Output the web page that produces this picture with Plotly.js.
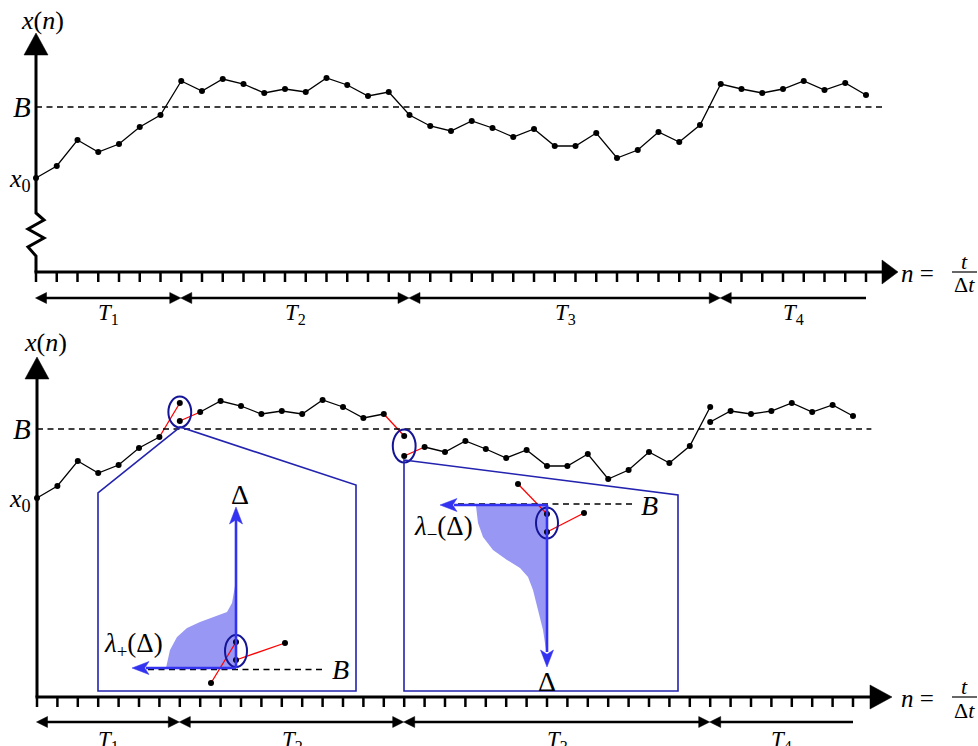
<!DOCTYPE html>
<html><head><meta charset="utf-8">
<script src="https://cdn.plot.ly/plotly-3.0.1.min.js"></script>
<style>html,body{margin:0;padding:0;background:#fff}#chart{width:978px;height:746px}</style>
</head><body><div id="chart"></div>
<script>
// ---------------- data ----------------
const nIdx = [0,1,2,3,4,5,6,7,8,9,10,11,12,13,14,15,16,17,18,19,20,21,22,23,24,25,26,27,28,29,30,31,32,33,34,35,36,37,38,39,40];
// top panel: free walk x(n)
const topX = [9.4,10.6,13.2,12.0,12.8,14.5,15.7,19.1,18.1,19.3,18.8,17.9,18.3,18.0,19.4,18.7,17.6,18.0,15.7,14.6,14.1,15.1,14.4,13.5,14.3,12.6,12.6,13.9,11.4,12.2,14.0,13.0,14.7,18.8,18.3,17.9,18.3,19.1,18.2,18.9,17.7];
// bottom panel: walk with the value reached at each step
const botX = [9.6,10.8,13.3,12.1,12.9,14.6,15.7,19.1,18.2,19.3,18.8,18.0,18.3,18.0,19.4,18.7,17.6,18.0,15.8,14.7,14.2,15.3,14.5,13.6,14.4,12.8,12.8,14.0,11.5,12.4,14.2,13.1,14.8,18.7,18.3,18.0,18.3,19.1,18.2,18.9,17.8];
// steps where the walk is reset after crossing B, and the reset values
const resetN = [7, 18, 33];
const resetX = [17.3, 13.8, 17.2];
// crossings highlighted in red with an ellipse
const redN = [7, 18];
const barrierB = 16.5;
// period boundaries (in steps) and labels
const periodEdges = [0, 7, 18, 33, 40];
const periodLabels = ['<i>T</i><sub>1</sub>','<i>T</i><sub>2</sub>','<i>T</i><sub>3</sub>','<i>T</i><sub>4</sub>'];
// inset 1 (upward crossing): overshoot distribution lambda_+(Delta)
const in1Delta  = [0.0, 1.8, 3.1, 4.0, 4.6, 5.1, 5.6, 6.5, 7.8, 8.8];
const in1Lambda = [7.0, 6.6, 5.9, 4.9, 3.6, 2.3, 0.9, 0.4, 0.2, 0.0];
const in1PtU = [-2.5, 0.0, 0.0, 4.9];   // before, arrival, reset, after
const in1PtW = [-1.5, 2.6, 0.8, 2.5];
// inset 2 (downward crossing): lambda_-(Delta), Delta measured downwards
const in2Delta  = [0.1, 1.8, 3.2, 4.5, 5.5, 6.3, 7.2, 8.5, 10.5, 12.5, 14.5];
const in2Lambda = [7.1, 6.9, 6.4, 5.4, 4.0, 2.7, 1.9, 1.4, 0.9, 0.4, 0.1];
const in2PtU = [-2.9, 0.0, 0.0, 3.7];
const in2PtD = [-2.1, 0.9, 2.7, 0.8];

// ---------------- layout helpers ----------------
const W = 978, H = 746;
const FONT = 'Liberation Serif, DejaVu Serif, serif';
const BLUE = 'rgb(50,50,240)', NAVY = 'rgb(20,20,150)', BOX = 'rgb(35,35,175)', SHADE = 'rgb(152,152,244)';
const xr = (o,s) => [-o/s, (W-o)/s];
const yrUp = (o,s) => [(o-H)/s, o/s];
const yrDown = (o,s) => [(H-o)/s, -o/s];
const M = {
  top: {xo:36, xs:20.75, yo:272, ys:10},
  bot: {xo:37, xs:20.4, yo:594, ys:10}
};
const PX = (p,n) => p.xo + p.xs*n;
const fx = x => x/W, fy = y => 1 - y/H;

const shapes = [], ann = [];
function pline(x0,y0,x1,y1,color,width,dash){
  shapes.push({type:'line',xref:'paper',yref:'paper',x0:fx(x0),y0:fy(y0),x1:fx(x1),y1:fy(y1),
    line:{color:color,width:width,dash:dash||'solid'}});
}
function ppath(pts,close,color,width,fill){
  let d = pts.map((p,i)=>(i?'L':'M')+fx(p[0]).toFixed(5)+','+fy(p[1]).toFixed(5)).join(' ');
  if(close) d += ' Z';
  shapes.push({type:'path',xref:'paper',yref:'paper',path:d,
    line:{color:color,width:width},fillcolor:fill||'rgba(0,0,0,0)'});
}
function head(tx,ty,dx,dy,len,half,color,notch){
  const bx = tx - dx*len, by = ty - dy*len;
  const nx = -dy, ny = dx;
  const pts = [[tx,ty],[bx+nx*half,by+ny*half]];
  if(notch) pts.push([tx-dx*len*(1-notch), ty-dy*len*(1-notch)]);
  pts.push([bx-nx*half,by-ny*half]);
  ppath(pts,true,color,0.5,color);
}
function text(x,y,t,size,opts){
  ann.push(Object.assign({xref:'paper',yref:'paper',x:fx(x),y:fy(y),text:t,showarrow:false,
    xanchor:'center',yanchor:'middle',font:{family:FONT,size:size,color:'black'}},opts||{}));
}

// ---------------- axes drawings for each panel ----------------
function panel(p, xref, yref, axisY, yTop, arrowTipX, arrowBaseX, zigzag, tArrowY, tLabelY){
  const x0 = PX(p,0);
  if(zigzag){
    ppath([[x0,yTop+20],[x0,213],[x0+8,220],[x0-8,229],[x0+8,238],[x0-8,247],[x0,256],[x0,axisY]],false,'black',3);
  } else {
    pline(x0,axisY,x0,yTop+20,'black',3);
  }
  head(x0,yTop,0,-1,22,12,'black');
  pline(x0-1.5,axisY,arrowBaseX+2,axisY,'black',3);
  head(arrowTipX,axisY,1,0,arrowTipX-arrowBaseX,12,'black');
  nIdx.forEach(n=>{
    shapes.push({type:'line',xref:xref,yref:'paper',x0:n,x1:n,y0:fy(axisY),y1:fy(axisY+10),line:{color:'black',width:2.5}});
  });
  shapes.push({type:'line',xref:xref,yref:yref,x0:0,x1:40.9,y0:barrierB,y1:barrierB,line:{color:'black',width:1.5,dash:'6px,4.5px'}});
  for(let i=0;i<periodEdges.length-1;i++){
    const a = PX(p,periodEdges[i]), b = PX(p,periodEdges[i+1]);
    const last = i===periodEdges.length-2;
    pline(a+6,tArrowY,last?b:b-6,tArrowY,'black',2.5);
    head(a-0.5,tArrowY,-1,0,11,5.5,'black');
    if(!last) head(b-0.5,tArrowY,1,0,11,5.5,'black');
    text((a+b)/2,tLabelY,periodLabels[i],23);
  }
  text(899,axisY+1,'<i>n</i> =',25,{xanchor:'left'});
  pline(952,axisY,977,axisY,'black',1.2);
  text(964.5,axisY-11,'<i>t</i>',22);
  text(964.5,axisY+13,'Δ<i>t</i>',22);
}
panel(M.top,'x','y',272,33,898,882,true,298,314);
panel(M.bot,'x2','y2',697,357,892,870,false,722,741);

// axis labels
text(42,20,'<i>x</i>(<i>n</i>)',26);
text(22,107,'<i>B</i>',29);
text(20,180,'<i>x</i><sub>0</sub>',26);
text(45,342,'<i>x</i>(<i>n</i>)',26);
text(22,429,'<i>B</i>',29);
text(20,500,'<i>x</i><sub>0</sub>',26);

// ---------------- traces ----------------
const traces = [];
traces.push({x:nIdx,y:topX,xaxis:'x',yaxis:'y',mode:'lines+markers',cliponaxis:false,
  line:{color:'black',width:1.3},marker:{color:'black',size:6}});

// bottom walk: split into black and red segments
const bkX=[],bkY=[],rdX=[],rdY=[],mkX=[],mkY=[];
let lastEnd = null;
for(let i=0;i<nIdx.length;i++){
  const n = nIdx[i];
  mkX.push(n); mkY.push(botX[i]);
  const ri = resetN.indexOf(n);
  if(ri>=0){ mkX.push(n); mkY.push(resetX[ri]); }
  if(i===0) continue;
  const pn = nIdx[i-1];
  const pri = resetN.indexOf(pn);
  const sy = pri>=0 ? resetX[pri] : botX[i-1];
  const isRed = redN.includes(n) || redN.includes(pn);
  if(isRed){
    rdX.push(pn,n,null); rdY.push(sy,botX[i],null);
  } else {
    if(!(lastEnd && lastEnd[0]===pn && lastEnd[1]===sy)){
      if(bkX.length){bkX.push(null);bkY.push(null);}
      bkX.push(pn); bkY.push(sy);
    }
    bkX.push(n); bkY.push(botX[i]);
    lastEnd = [n, botX[i]];
  }
}
traces.push({x:bkX,y:bkY,xaxis:'x2',yaxis:'y2',mode:'lines',cliponaxis:false,connectgaps:false,line:{color:'black',width:1.3}});
traces.push({x:rdX,y:rdY,xaxis:'x2',yaxis:'y2',mode:'lines',cliponaxis:false,connectgaps:false,line:{color:'red',width:1.3}});
traces.push({x:mkX,y:mkY,xaxis:'x2',yaxis:'y2',mode:'markers',cliponaxis:false,marker:{color:'black',size:6}});

// ellipses around highlighted crossings
redN.forEach(n=>{
  const i = nIdx.indexOf(n), ri = resetN.indexOf(n);
  const lo = Math.min(botX[i],resetX[ri]), hi = Math.max(botX[i],resetX[ri]);
  shapes.push({type:'circle',xref:'x2',yref:'y2',x0:n-0.56,x1:n+0.56,y0:lo-0.65,y1:hi+0.65,line:{color:NAVY,width:2}});
});

// inset boxes
ppath([[180,427],[98,493],[98,691],[356,691],[356,485]],true,BOX,1.6);
ppath([[404,460],[678,495],[678,691],[404,691]],true,BOX,1.6);

// inset 1 (x3,y3): origin pixel (236,668)
traces.push({x:in1Lambda.map(v=>-v).concat([0]),y:in1Delta.concat([0]),xaxis:'x3',yaxis:'y3',mode:'lines',
  fill:'toself',fillcolor:SHADE,line:{width:0,color:SHADE},cliponaxis:false});
traces.push({x:[in1PtU[0],in1PtU[1],null,in1PtU[2],in1PtU[3]],y:[in1PtW[0],in1PtW[1],null,in1PtW[2],in1PtW[3]],
  xaxis:'x3',yaxis:'y3',mode:'lines',line:{color:'red',width:1.3},cliponaxis:false});
traces.push({x:in1PtU,y:in1PtW,xaxis:'x3',yaxis:'y3',mode:'markers',marker:{color:'black',size:6},cliponaxis:false});
shapes.push({type:'line',xref:'x3',yref:'y3',x0:-8.8,x1:8.7,y0:-0.15,y1:-0.15,line:{color:'black',width:1.5,dash:'6px,4.5px'}});
shapes.push({type:'circle',xref:'x3',yref:'y3',x0:-1.1,x1:1.1,y0:in1PtW[2]-0.7,y1:in1PtW[1]+0.7,line:{color:NAVY,width:2}});
pline(236,668,236,520,BLUE,2.6);
head(236,507,0,-1,17,6.5,BLUE,0.25);
pline(236,668,146,668,BLUE,2.6);
head(132,668,-1,0,17,6.5,BLUE,0.25);
text(240,494,'Δ',28);
text(133,645,'<i>λ</i><sub>+</sub>(Δ)',27);
text(340,669,'<i>B</i>',28);

// inset 2 (x4,y4): origin pixel (547,505), Delta downwards
traces.push({x:in2Lambda.map(v=>-v).concat([0,0,-in2Lambda[0]]),y:in2Delta.concat([in2Delta[in2Delta.length-1],0,0]),
  xaxis:'x4',yaxis:'y4',mode:'lines',fill:'toself',fillcolor:SHADE,line:{width:0,color:SHADE},cliponaxis:false});
traces.push({x:[in2PtU[0],in2PtU[1],null,in2PtU[2],in2PtU[3]],y:[in2PtD[0],in2PtD[1],null,in2PtD[2],in2PtD[3]],
  xaxis:'x4',yaxis:'y4',mode:'lines',line:{color:'red',width:1.3},cliponaxis:false});
traces.push({x:in2PtU,y:in2PtD,xaxis:'x4',yaxis:'y4',mode:'markers',marker:{color:'black',size:6},cliponaxis:false});
shapes.push({type:'line',xref:'x4',yref:'y4',x0:-8.9,x1:8.8,y0:-0.1,y1:-0.1,line:{color:'black',width:1.5,dash:'6px,4.5px'}});
shapes.push({type:'circle',xref:'x4',yref:'y4',x0:-1.1,x1:1.1,y0:in2PtD[1]-0.65,y1:in2PtD[2]+0.65,line:{color:NAVY,width:2}});
pline(547,505,547,652,BLUE,2.6);
head(547,667,0,1,17,6.5,BLUE,0.25);
pline(547,505,454,505,BLUE,2.6);
head(440,505,-1,0,17,6.5,BLUE,0.25);
text(547,681,'Δ',28);
text(443,528,'<i>λ</i><sub>−</sub>(Δ)',27);
text(649,505,'<i>B</i>',28);

// ---------------- layout ----------------
const ax = r => ({range:r,domain:[0,1],visible:false,fixedrange:true,showgrid:false,zeroline:false});
const layout = {
  width:W,height:H,margin:{l:0,r:0,t:0,b:0,pad:0},showlegend:false,
  paper_bgcolor:'white',plot_bgcolor:'rgba(0,0,0,0)',
  xaxis:Object.assign(ax(xr(M.top.xo,M.top.xs)),{anchor:'y'}),
  yaxis:Object.assign(ax(yrUp(M.top.yo,M.top.ys)),{anchor:'x'}),
  xaxis2:Object.assign(ax(xr(M.bot.xo,M.bot.xs)),{anchor:'y2'}),
  yaxis2:Object.assign(ax(yrUp(M.bot.yo,M.bot.ys)),{anchor:'x2'}),
  xaxis3:Object.assign(ax(xr(236,10)),{anchor:'y3'}),
  yaxis3:Object.assign(ax(yrUp(668,10)),{anchor:'x3'}),
  xaxis4:Object.assign(ax(xr(547,10)),{anchor:'y4'}),
  yaxis4:Object.assign(ax(yrDown(505,10)),{anchor:'x4'}),
  shapes:shapes,annotations:ann
};
Plotly.newPlot('chart',traces,layout,{staticPlot:true,displayModeBar:false});
</script></body></html>
